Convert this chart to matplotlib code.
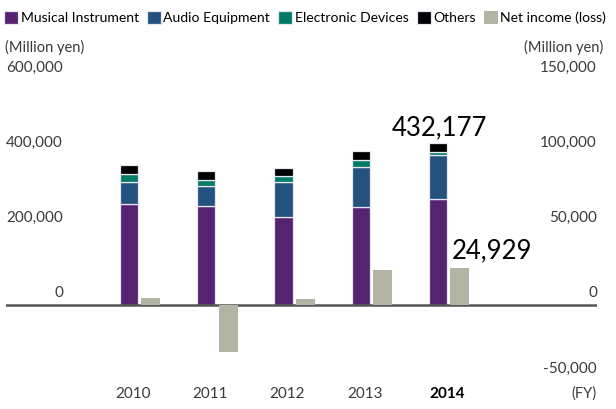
import matplotlib
matplotlib.use("Agg")
import matplotlib.pyplot as plt
import matplotlib.transforms as mtransforms

plt.rcParams['font.family'] = ['Lato', 'DejaVu Sans']

years = ["2010", "2011", "2012", "2013", "2014"]
musical = [270000, 265000, 235400, 263000, 282500]
audio = [59500, 54000, 92800, 106000, 118300]
electronic = [20200, 16000, 16100, 18300, 8600]
others = [24166, 21836, 22641, 23004, 22777]
net_income = [5078, -30774, 4122, 23271, 24929]

left_ticks = [0, 200000, 400000, 600000]
right_ticks = [-50000, 0, 50000, 100000, 150000]

c_mus = "#55236F"
c_aud = "#24527E"
c_ele = "#007B66"
c_oth = "#000000"
c_net = "#B2B5A3"
tick_col = "#3a3a3a"

W, H = 616, 409
fig = plt.figure(figsize=(W / 100, H / 100), dpi=100)
ax = fig.add_axes([6 / W, (H - 380.5) / H, (597 - 6) / W, (380.5 - 80) / H])
ax2 = ax.twinx()

x = list(range(len(years)))
bw = 0.235
bottoms = [0] * len(years)
handles = []
for vals, col, name in [(musical, c_mus, "Musical Instrument"),
                        (audio, c_aud, "Audio Equipment"),
                        (electronic, c_ele, "Electronic Devices"),
                        (others, c_oth, "Others")]:
    b = ax.bar(x, vals, bw, bottom=bottoms, color=col, edgecolor="#e8e6f0",
               linewidth=0.9, label=name, zorder=3)
    handles.append(b)
    bottoms = [bo + v for bo, v in zip(bottoms, vals)]

xn = [i + 0.282 for i in x]
bn = ax2.bar(xn, net_income, 0.246, color=c_net, linewidth=0, label="Net income (loss)", zorder=3)
handles.append(bn)

ax.set_ylim(-200000, 600000)
ax2.set_ylim(-50000, 150000)
ax.set_xlim(-1.592, 6.058)

for a in (ax, ax2):
    for s in a.spines.values():
        s.set_visible(False)
    a.set_yticks([])
    a.tick_params(length=0)
ax.set_xticks([])

ax.axhline(0, color="#555555", linewidth=1.8, zorder=4)

# y labels (placed slightly above their values)
off = mtransforms.ScaledTranslation(0, 12 / 100, fig.dpi_scale_trans)
tl = mtransforms.blended_transform_factory(fig.transFigure, ax.transData) + off
for v in left_ticks:
    fig.text(63 / W, v, f"{v:,}", transform=tl, ha="right", va="center",
             fontsize=11, color=tick_col)
tr = mtransforms.blended_transform_factory(fig.transFigure, ax2.transData) + off
for v in right_ticks:
    fig.text(597 / W, v, f"{v:,}", transform=tr, ha="right", va="center",
             fontsize=11, color=tick_col)

fig.text(5 / W, 1 - 47 / H, "(Million yen)", ha="left", va="center", fontsize=10.5, color=tick_col)
fig.text(603 / W, 1 - 47 / H, "(Million yen)", ha="right", va="center", fontsize=10.5, color=tick_col)

# x labels
tx = mtransforms.blended_transform_factory(ax.transData, fig.transFigure)
for i, yr in enumerate(years):
    last = i == len(years) - 1
    fig.text(i + (0.12 if last else 0.05), 1 - 394 / H, yr, transform=tx, ha="center", va="center",
             fontsize=11, color="#000000" if last else tick_col,
             fontweight="bold" if last else "normal")
fig.text(596 / W, 1 - 394 / H, "(FY)", ha="right", va="center", fontsize=10.5, color=tick_col)

# annotations
total_last = bottoms[-1]
ax.annotate(f"{total_last:,}", (x[-1], total_last), xytext=(1, 2), textcoords="offset points",
            ha="center", va="bottom", fontsize=18.5, color="#000000")
ax2.annotate(f"{net_income[-1]:,}", (xn[-1], net_income[-1]), xytext=(-5.5, 3.5), textcoords="offset points",
             ha="left", va="bottom", fontsize=18.5, color="#000000")

fig.legend(handles=handles, loc="upper left", bbox_to_anchor=(4 / W, 1 - 11 / H), ncol=5,
           frameon=False, fontsize=10.1, handlelength=1.0, handleheight=1.0,
           handletextpad=0.18, columnspacing=0.58, borderpad=0, borderaxespad=0)

fig.savefig("out.png", dpi=100)
